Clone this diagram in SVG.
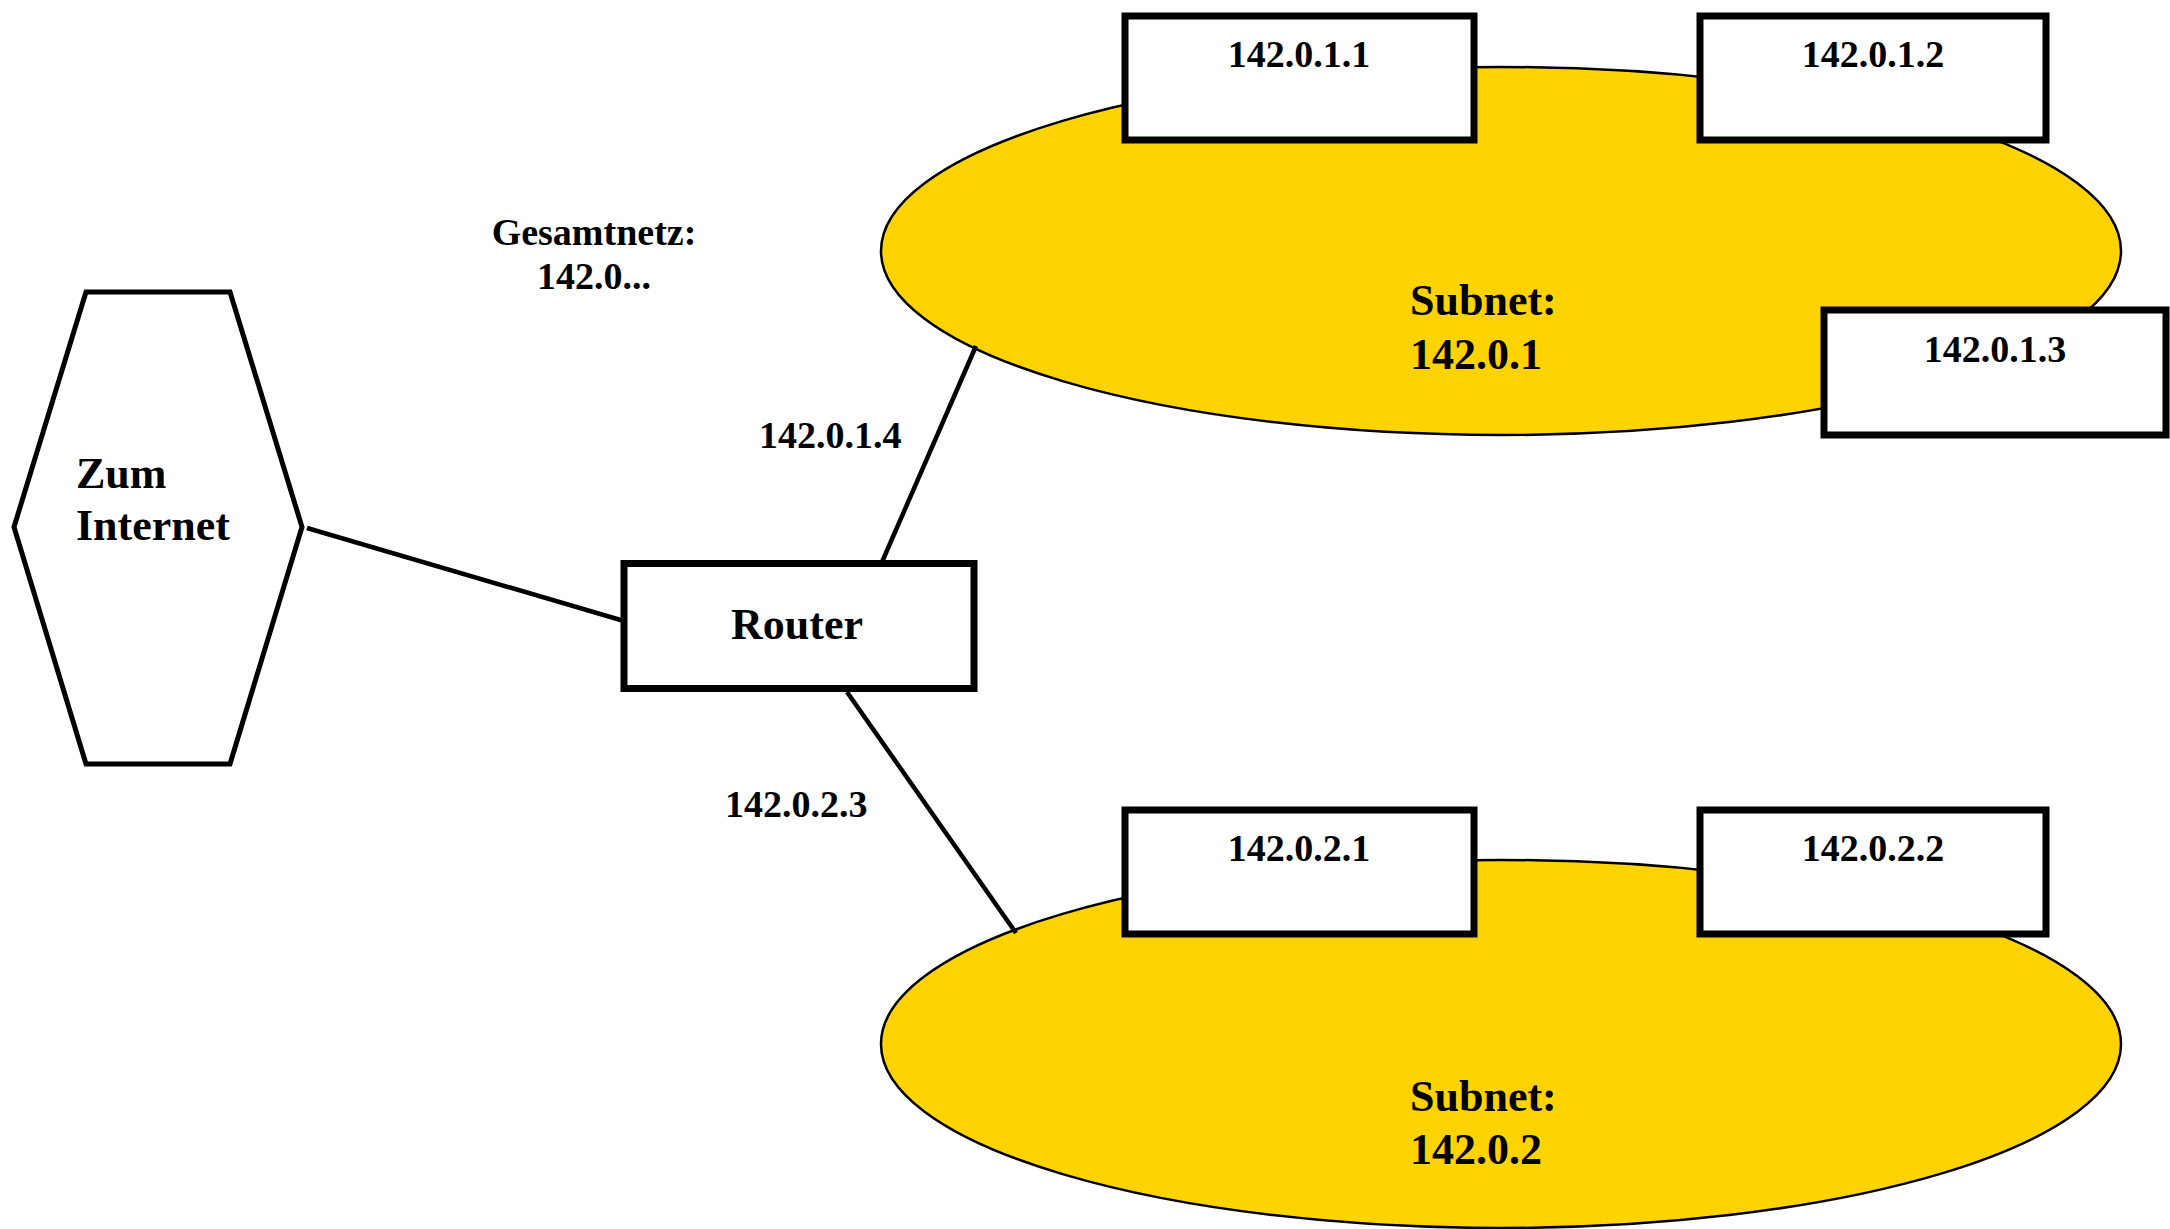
<svg xmlns="http://www.w3.org/2000/svg" width="2170" height="1229" viewBox="0 0 2170 1229">
  <style>
    .lbl { font-family: "Liberation Serif", "Times New Roman", serif; font-weight: bold; fill: #000; }
    .host { fill: #fff; stroke: #000; stroke-width: 7; }
    .subnet { fill: #FFD300; stroke: #000; stroke-width: 2.5; }
    .wire { stroke: #000; stroke-width: 4.5; fill: none; }
  </style>
  <rect width="2170" height="1229" fill="#fff"/>

  <!-- Subnet 142.0.1 -->
  <g id="subnet1">
    <ellipse class="subnet" cx="1501" cy="251" rx="620" ry="184"/>
    <text class="lbl" x="1410" y="315" font-size="44">Subnet:</text>
    <text class="lbl" x="1410" y="369" font-size="44">142.0.1</text>
  </g>

  <!-- Subnet 142.0.2 -->
  <g id="subnet2">
    <ellipse class="subnet" cx="1501" cy="1044" rx="620" ry="184"/>
    <text class="lbl" x="1410" y="1111" font-size="44">Subnet:</text>
    <text class="lbl" x="1410" y="1164" font-size="44">142.0.2</text>
  </g>

  <!-- Links -->
  <g id="connectors">
    <line class="wire" x1="307" y1="528" x2="624" y2="621"/>
    <line class="wire" x1="882" y1="562" x2="976" y2="346"/>
    <line class="wire" x1="847" y1="692" x2="1016" y2="933"/>
  </g>

  <!-- Internet uplink -->
  <g id="internet">
    <polygon points="14,527 86,292 230,292 302,527 230,764 86,764" fill="#fff" stroke="#000" stroke-width="5"/>
    <text class="lbl" x="76" y="488" font-size="44">Zum</text>
    <text class="lbl" x="76" y="540" font-size="44">Internet</text>
  </g>

  <g id="router">
    <rect class="host" x="624" y="563.5" width="350" height="125"/>
    <text class="lbl" x="797" y="639" font-size="44" text-anchor="middle">Router</text>
  </g>

  <!-- Interface and network labels -->
  <g id="labels">
    <text class="lbl" x="594" y="245" font-size="38" text-anchor="middle">Gesamtnetz:</text>
    <text class="lbl" x="594" y="289" font-size="38" text-anchor="middle">142.0...</text>
    <text class="lbl" x="759" y="448" font-size="38">142.0.1.4</text>
    <text class="lbl" x="725" y="817" font-size="38">142.0.2.3</text>
  </g>

  <!-- Hosts -->
  <g id="host-142.0.1.1">
    <rect class="host" x="1125" y="16" width="349" height="124"/>
    <text class="lbl" x="1299" y="67" font-size="38" text-anchor="middle">142.0.1.1</text>
  </g>
  <g id="host-142.0.1.2">
    <rect class="host" x="1700" y="16" width="346" height="124"/>
    <text class="lbl" x="1873" y="67" font-size="38" text-anchor="middle">142.0.1.2</text>
  </g>
  <g id="host-142.0.1.3">
    <rect class="host" x="1824" y="310" width="342" height="125"/>
    <text class="lbl" x="1995" y="362" font-size="38" text-anchor="middle">142.0.1.3</text>
  </g>
  <g id="host-142.0.2.1">
    <rect class="host" x="1125" y="810" width="349" height="124"/>
    <text class="lbl" x="1299" y="861" font-size="38" text-anchor="middle">142.0.2.1</text>
  </g>
  <g id="host-142.0.2.2">
    <rect class="host" x="1700" y="810" width="346" height="124"/>
    <text class="lbl" x="1873" y="861" font-size="38" text-anchor="middle">142.0.2.2</text>
  </g>
</svg>
